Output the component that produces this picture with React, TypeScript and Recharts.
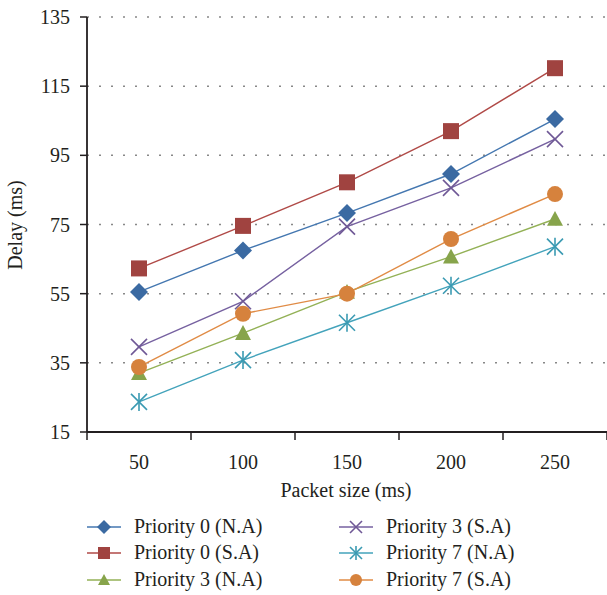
import React from 'react';
import { LineChart, Line, XAxis, YAxis, CartesianGrid, Label } from 'recharts';

const packetSizes = [50, 100, 150, 200, 250];
const p0NA = [55.5, 67.5, 78.3, 89.6, 105.5];
const p0SA = [62.3, 74.6, 87.2, 102, 120.2];
const p3NA = [32, 43.6, 55.5, 65.7, 76.6];
const p3SA = [39.6, 52.8, 74.4, 85.6, 99.7];
const p7NA = [23.7, 35.8, 46.6, 57.3, 68.6];
const p7SA = [33.8, 49.2, 55, 70.8, 83.8];
const yTicks = [15, 35, 55, 75, 95, 115, 135];

const FONT = 'Liberation Serif, DejaVu Serif, serif';
const TXT = '#231f20';
const txtStyle = { fontFamily: FONT };

type Shape = 'diamond' | 'square' | 'triangle' | 'x' | 'star' | 'circle';

const series: { key: string; name: string; values: number[]; color: string; line: string; shape: Shape }[] = [
  { key: 'p0na', name: 'Priority 0 (N.A)', values: p0NA, color: '#3b6aa2', line: '#4477b0', shape: 'diamond' },
  { key: 'p0sa', name: 'Priority 0 (S.A)', values: p0SA, color: '#a04340', line: '#b04a47', shape: 'square' },
  { key: 'p3na', name: 'Priority 3 (N.A)', values: p3NA, color: '#87a44b', line: '#93b156', shape: 'triangle' },
  { key: 'p3sa', name: 'Priority 3 (S.A)', values: p3SA, color: '#6f5896', line: '#7661a0', shape: 'x' },
  { key: 'p7na', name: 'Priority 7 (N.A)', values: p7NA, color: '#3a9ab2', line: '#43a3bb', shape: 'star' },
  { key: 'p7sa', name: 'Priority 7 (S.A)', values: p7SA, color: '#d6823d', line: '#e08b45', shape: 'circle' },
];

const data = packetSizes.map((size, i) => {
  const row: Record<string, number> = { size };
  series.forEach((s) => { row[s.key] = s.values[i]; });
  return row;
});

// marker shapes, s = half size
const marker = (shape: Shape, cx: number, cy: number, s: number, color: string, key?: string) => {
  switch (shape) {
    case 'diamond':
      return <polygon key={key} points={`${cx},${cy - s - 1} ${cx + s + 1},${cy} ${cx},${cy + s + 1} ${cx - s - 1},${cy}`} fill={color} />;
    case 'square':
      return <rect key={key} x={cx - s} y={cy - s} width={2 * s} height={2 * s} fill={color} />;
    case 'triangle':
      return <polygon key={key} points={`${cx},${cy - s} ${cx + s},${cy + s * 0.85} ${cx - s},${cy + s * 0.85}`} fill={color} />;
    case 'x':
      return (
        <g key={key} stroke={color} strokeWidth={1.6}>
          <line x1={cx - s} y1={cy - s} x2={cx + s} y2={cy + s} />
          <line x1={cx - s} y1={cy + s} x2={cx + s} y2={cy - s} />
        </g>
      );
    case 'star':
      return (
        <g key={key} stroke={color} strokeWidth={1.6}>
          <line x1={cx - s} y1={cy - s} x2={cx + s} y2={cy + s} />
          <line x1={cx - s} y1={cy + s} x2={cx + s} y2={cy - s} />
          <line x1={cx} y1={cy - s - 1} x2={cx} y2={cy + s + 1} />
        </g>
      );
    default:
      return <circle key={key} cx={cx} cy={cy} r={s} fill={color} />;
  }
};

const HALF_BAND = 52;

const XTick = (props: any) => {
  const { x, y, payload, index } = props;
  const axisY = y - 18;
  return (
    <g>
      <line x1={x - HALF_BAND} y1={axisY} x2={x - HALF_BAND} y2={axisY + 8} stroke={TXT} strokeWidth={1.5} />
      {index === packetSizes.length - 1 && (
        <line x1={x + HALF_BAND} y1={axisY} x2={x + HALF_BAND} y2={axisY + 8} stroke={TXT} strokeWidth={1.5} />
      )}
      <text x={x} y={axisY + 37} textAnchor="middle" style={txtStyle} fontSize={20} fill={TXT}>
        {payload.value}
      </text>
    </g>
  );
};

const Legend2 = () => {
  const rows = [527, 553, 580];
  const cols = [{ lx: 87, tx: 134 }, { lx: 339, tx: 386 }];
  return (
    <svg width={607} height={595} style={{ position: 'absolute', left: 0, top: 0, pointerEvents: 'none' }}>
      {series.map((s, i) => {
        const c = cols[Math.floor(i / 3)];
        const y = rows[i % 3];
        return (
          <g key={s.key}>
            <line x1={c.lx} y1={y} x2={c.lx + 34} y2={y} stroke={s.line} strokeWidth={1.5} />
            {marker(s.shape, c.lx + 17, y, 6, s.color)}
            <text x={c.tx} y={y + 6} style={txtStyle} fontSize={20} fill={TXT}>{s.name}</text>
          </g>
        );
      })}
    </svg>
  );
};

export default function App() {
  return (
    <div style={{ position: 'absolute', left: 0, top: 0, width: 607, height: 595, background: '#fff' }}>
      <LineChart width={607} height={595} data={data} margin={{ top: 17, right: 0, bottom: 103, left: 0 }}>
        <CartesianGrid vertical={false} stroke="#888" strokeDasharray="2 10" strokeWidth={1.5} />
        <XAxis
          dataKey="size"
          type="number"
          domain={[25, 275]}
          ticks={packetSizes}
          interval={0}
          tickLine={false}
          tickSize={8}
          tickMargin={10}
          tick={<XTick />}
          axisLine={{ stroke: TXT, strokeWidth: 1.8 }}
          height={60}
        >
          <Label
            content={() => (
              <text x={346} y={497} textAnchor="middle" style={txtStyle} fontSize={20} fill={TXT}>Packet size (ms)</text>
            )}
          />
        </XAxis>
        <YAxis
          type="number"
          domain={[15, 135]}
          ticks={yTicks}
          interval={0}
          width={87}
          tickSize={7}
          tickMargin={10}
          tickLine={{ stroke: TXT, strokeWidth: 1.5 }}
          axisLine={{ stroke: TXT, strokeWidth: 1.8 }}
          tick={{ style: txtStyle, fontSize: 20, fill: TXT }}
        >
          <Label
            content={() => (
              <text x={22} y={225} transform="rotate(-90 22 225)" textAnchor="middle" style={txtStyle} fontSize={20} fill={TXT}>Delay (ms)</text>
            )}
          />
        </YAxis>
        {series.map((s) => (
          <Line
            key={s.key}
            dataKey={s.key}
            name={s.name}
            stroke={s.line}
            strokeWidth={1.4}
            isAnimationActive={false}
            dot={(p: any) => marker(s.shape, p.cx, p.cy, 8, s.color, `${s.key}-${p.index}`)}
            activeDot={false}
          />
        ))}
      </LineChart>
      <Legend2 />
    </div>
  );
}
